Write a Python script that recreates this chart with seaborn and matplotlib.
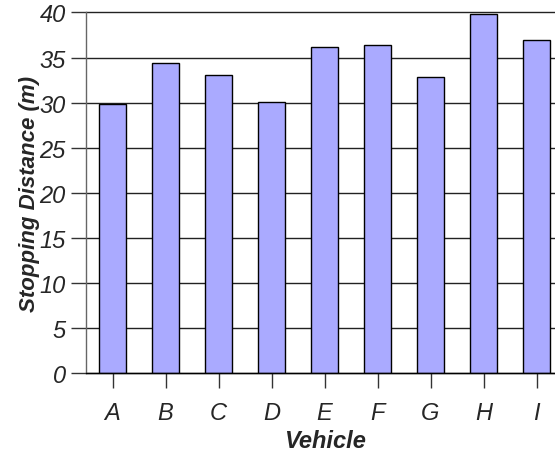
import matplotlib
matplotlib.use("Agg")
import matplotlib.pyplot as plt
import seaborn as sns
import pandas as pd

vehicles = ["A", "B", "C", "D", "E", "F", "G", "H", "I"]
stopping_distance = [29.9, 34.4, 33.1, 30.1, 36.2, 36.4, 32.8, 39.8, 36.9]
y_ticks = [0, 5, 10, 15, 20, 25, 30, 35, 40]

sns.set_style("white")
plt.rcParams["font.family"] = ["Liberation Sans", "DejaVu Sans"]

df = pd.DataFrame({"Vehicle": vehicles, "Distance": stopping_distance})

fig = plt.figure(figsize=(5.55, 4.52), dpi=100)
ax = fig.add_axes([86 / 555, 1 - 374 / 452, 477 / 555, 360.5 / 452])

ax.yaxis.grid(True, color="#222222", linewidth=1.0)
ax.set_axisbelow(True)

sns.barplot(data=df, x="Vehicle", y="Distance", color="#aaaaff", saturation=1,
            width=0.5, edgecolor="black", linewidth=1.0, ax=ax)

ax.set_xlim(-0.5, 8.5)
ax.set_ylim(0, 40)
ax.set_yticks(y_ticks)
ax.set_yticklabels([str(t) for t in y_ticks], fontsize=17, style="italic")
ax.set_xticks(range(len(vehicles)))
ax.set_xticklabels(vehicles, fontsize=17, style="italic")
for gl in ax.get_ygridlines():
    gl.set_clip_on(False)

ax.tick_params(axis="y", direction="out", length=10.5, width=1.0, color="#333333", pad=4, left=True)
ax.tick_params(axis="x", direction="out", length=11, width=1.0, color="#333333", pad=9.5, bottom=True)

for side in ["top", "right"]:
    ax.spines[side].set_visible(False)
ax.spines["left"].set_color("#666666")
ax.spines["left"].set_linewidth(1.0)
ax.spines["bottom"].set_color("black")
ax.spines["bottom"].set_linewidth(1.0)

ax.set_xlabel("Vehicle", fontsize=17, fontweight="bold", style="italic", labelpad=3)
ax.set_ylabel("Stopping Distance (m)", fontsize=16, fontweight="bold", style="italic", labelpad=0)

fig.savefig("out.png", dpi=100)
